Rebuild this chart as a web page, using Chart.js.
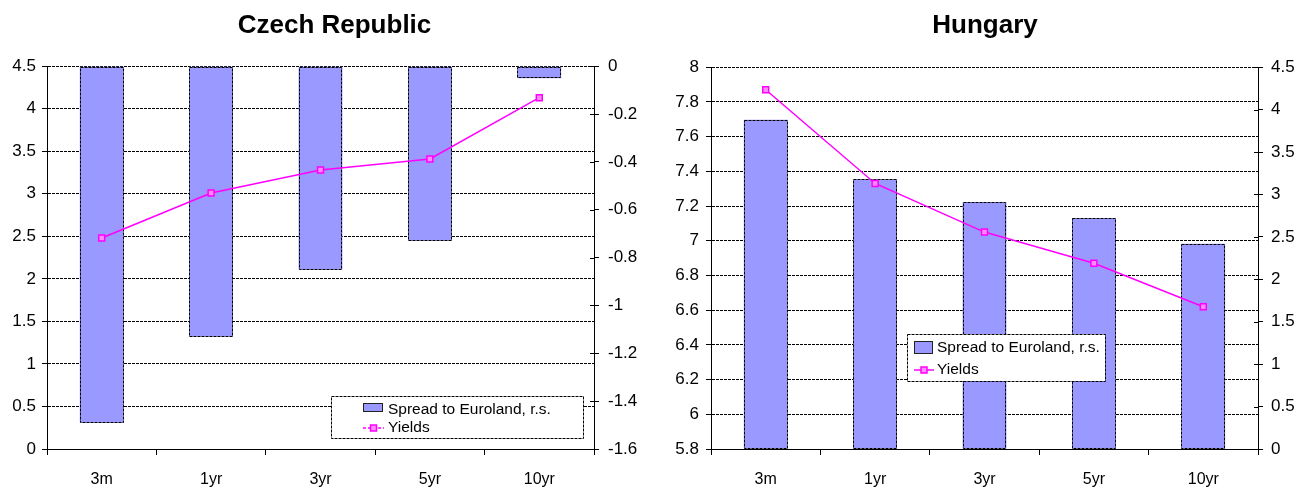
<!DOCTYPE html>
<html>
<head>
<meta charset="utf-8">
<title>Yields and spreads</title>
<script src="https://cdn.jsdelivr.net/npm/chart.js@4.4.1/dist/chart.umd.min.js"></script>
<style>
  html, body { margin: 0; padding: 0; background: #fff; }
  #wrap { position: relative; width: 1307px; height: 488px; overflow: hidden; }
  .pane { position: absolute; top: 0; height: 488px; }
  #czPane { left: 0; width: 653px; }
  #huPane { left: 653px; width: 654px; }
</style>
</head>
<body>
<div id="wrap">
  <div class="pane" id="czPane"><canvas id="cz"></canvas></div>
  <div class="pane" id="huPane"><canvas id="hu"></canvas></div>
</div>
<script>
// ---- data ----
const categories = ['3m', '1yr', '3yr', '5yr', '10yr'];

const czYields = [2.48, 3.01, 3.28, 3.41, 4.13];
const czSpread = [-1.49, -1.13, -0.85, -0.73, -0.05];

const huYields = [7.87, 7.33, 7.05, 6.87, 6.62];
const huSpread = [3.88, 3.18, 2.91, 2.72, 2.42];

const czYieldTicks  = [0, 0.5, 1, 1.5, 2, 2.5, 3, 3.5, 4, 4.5];
const czSpreadTicks = [-1.6, -1.4, -1.2, -1, -0.8, -0.6, -0.4, -0.2, 0];
const huYieldTicks  = [5.8, 6, 6.2, 6.4, 6.6, 6.8, 7, 7.2, 7.4, 7.6, 7.8, 8];
const huSpreadTicks = [0, 0.5, 1, 1.5, 2, 2.5, 3, 3.5, 4, 4.5];

const spreadLabel = 'Spread to Euroland, r.s.';
const yieldLabel = 'Yields';

// ---- styling ----
const FONT = 'Arial, "Liberation Sans", sans-serif';
const BAR_FILL = '#9999ff';
const LINE_COLOR = '#ff00ff';
const DOTS = [3, 1];

Chart.defaults.font.family = FONT;
Chart.defaults.color = '#000';

// dotted outline around every bar, drawn right after the bar dataset
const dottedBars = {
  id: 'dottedBars',
  afterDatasetDraw(chart, args) {
    const meta = args.meta;
    if (meta.type !== 'bar') return;
    const ctx = chart.ctx;
    ctx.save();
    ctx.strokeStyle = '#000';
    ctx.lineWidth = 1;
    ctx.setLineDash(DOTS);
    meta.data.forEach(bar => {
      const p = bar.getProps(['x', 'y', 'base', 'width'], true);
      const l = Math.round(p.x - p.width / 2) + 0.5;
      const r = Math.round(p.x + p.width / 2) - 0.5;
      const t = Math.round(Math.min(p.y, p.base)) + 0.5;
      const b = Math.round(Math.max(p.y, p.base)) - 0.5;
      ctx.strokeRect(l, t, r - l, b - t);
    });
    ctx.restore();
  }
};

// right-hand axis ticks cross the axis line
const crossTicks = {
  id: 'crossTicks',
  afterDatasetsDraw(chart) {
    const s = chart.scales.y1;
    const ctx = chart.ctx;
    ctx.save();
    ctx.strokeStyle = '#000';
    ctx.lineWidth = 1;
    ctx.beginPath();
    s.ticks.forEach((t, i) => {
      const py = Math.round(s.getPixelForTick(i)) + 0.5;
      ctx.moveTo(s.left - 4, py);
      ctx.lineTo(s.left, py);
    });
    ctx.stroke();
    ctx.restore();
  }
};

// boxed legend sitting inside the plot
const boxLegend = {
  id: 'boxLegend',
  afterLayout(chart, args, o) {
    // nudge the title centre to sit over the middle of the figure
    if (chart.titleBlock) chart.titleBlock.left = o.titleShift;
  },
  afterDraw(chart, args, o) {
    const ctx = chart.ctx;
    const ds = chart.data.datasets;
    ctx.save();
    ctx.fillStyle = '#fff';
    ctx.fillRect(o.x, o.y, o.w, o.h);
    ctx.setLineDash(DOTS);
    ctx.strokeStyle = '#000';
    ctx.lineWidth = 1;
    ctx.strokeRect(o.x + 0.5, o.y + 0.5, o.w, o.h);

    // bar swatch
    const sw = o.swatch;
    ctx.fillStyle = ds[0].backgroundColor;
    ctx.fillRect(sw.x, sw.y, sw.w, sw.h);
    ctx.setLineDash([]);
    ctx.strokeStyle = '#222';
    ctx.strokeRect(sw.x + 0.5, sw.y + 0.5, sw.w - 1, sw.h - 1);

    // line symbol
    const ly = o.rows[1];
    ctx.strokeStyle = ds[1].borderColor;
    ctx.lineWidth = 1.5;
    ctx.setLineDash(o.lineDash);
    ctx.beginPath();
    ctx.moveTo(sw.x, ly);
    ctx.lineTo(sw.x + sw.w + 1, ly);
    ctx.stroke();
    ctx.setLineDash([]);
    const cx = sw.x + sw.w / 2 + 0.5;
    ctx.fillStyle = ds[1].pointBackgroundColor;
    ctx.fillRect(cx - 3, ly - 3, 6, 6);
    ctx.strokeStyle = ds[1].pointBorderColor;
    ctx.strokeRect(cx - 3, ly - 3, 6, 6);

    // texts
    ctx.fillStyle = '#000';
    ctx.font = '15.5px ' + FONT;
    ctx.textAlign = 'left';
    ctx.textBaseline = 'middle';
    ctx.fillText(ds[0].label, o.textX, o.rows[0]);
    ctx.fillText(ds[1].label, o.textX, o.rows[1]);
    ctx.restore();
  }
};

function yAxis(position, tickValues, width, pad, onChart) {
  return {
    type: 'linear',
    position: position,
    min: tickValues[0],
    max: tickValues[tickValues.length - 1],
    afterBuildTicks: s => { s.ticks = tickValues.map(v => ({ value: v })); },
    afterFit: s => { s.width = width; },
    ticks: {
      callback: v => String(v),
      color: '#000',
      padding: pad,
      autoSkip: false,
      font: { size: 17 }
    },
    grid: {
      display: true,
      drawOnChartArea: onChart,
      drawTicks: true,
      tickLength: 5,
      color: '#000',
      lineWidth: 1,
      tickColor: '#000',
      tickWidth: 1
    },
    border: { display: true, color: '#000', width: 1, dash: DOTS }
  };
}

function makeChart(id, cfg) {
  return new Chart(document.getElementById(id), {
    type: 'bar',
    data: {
      labels: categories,
      datasets: [
        {
          type: 'bar',
          label: spreadLabel,
          data: cfg.spread,
          yAxisID: 'y1',
          backgroundColor: BAR_FILL,
          borderWidth: 0,
          barPercentage: 0.4,
          categoryPercentage: 1,
          order: 2
        },
        {
          type: 'line',
          label: yieldLabel,
          data: cfg.yields,
          yAxisID: 'y',
          borderColor: LINE_COLOR,
          borderWidth: 1.5,
          tension: 0,
          pointStyle: 'rect',
          pointRadius: 4.2,
          pointBorderWidth: 1.5,
          pointBorderColor: LINE_COLOR,
          pointBackgroundColor: '#ff8cff',
          order: 1
        }
      ]
    },
    options: {
      responsive: true,
      maintainAspectRatio: false,
      animation: false,
      layout: { padding: 0 },
      scales: {
        x: {
          type: 'category',
          offset: true,
          afterFit: s => { s.height = 39; },
          grid: {
            offset: true,
            drawOnChartArea: false,
            drawTicks: true,
            tickLength: 6,
            color: '#000',
            tickColor: '#000'
          },
          border: { display: true, color: '#000', width: 1 },
          ticks: { color: '#000', padding: 15, maxRotation: 0, font: { size: 16 } }
        },
        y: yAxis('left', cfg.yieldTicks, cfg.leftWidth, cfg.leftPad, true),
        y1: yAxis('right', cfg.spreadTicks, cfg.rightWidth, cfg.rightPad, false)
      },
      plugins: {
        legend: { display: false },
        tooltip: { enabled: false },
        title: {
          display: true,
          text: cfg.title,
          color: '#000',
          font: { family: FONT, size: 26, weight: 'bold', lineHeight: 1.2 },
          padding: { top: 10, bottom: cfg.titleGap }
        },
        boxLegend: cfg.legend
      }
    },
    plugins: [dottedBars, crossTicks, boxLegend]
  });
}

makeChart('cz', {
  title: 'Czech Republic',
  yields: czYields,
  spread: czSpread,
  yieldTicks: czYieldTicks,
  spreadTicks: czSpreadTicks,
  leftWidth: 47,
  leftPad: 6,
  rightWidth: 59,
  rightPad: 9,
  titleGap: 25,
  legend: {
    titleShift: 16,
    x: 331, y: 396, w: 252, h: 42,
    swatch: { x: 363, y: 403, w: 20, h: 9 },
    textX: 388,
    rows: [410, 428],
    lineDash: [3, 2]
  }
});

makeChart('hu', {
  title: 'Hungary',
  yields: huYields,
  spread: huSpread,
  yieldTicks: huYieldTicks,
  spreadTicks: huSpreadTicks,
  leftWidth: 58,
  leftPad: 7,
  rightWidth: 49,
  rightPad: 8,
  titleGap: 26,
  legend: {
    titleShift: 10,
    x: 254, y: 334, w: 198, h: 47,
    swatch: { x: 261, y: 341, w: 19, h: 13 },
    textX: 284,
    rows: [348, 370],
    lineDash: []
  }
});
</script>
</body>
</html>
